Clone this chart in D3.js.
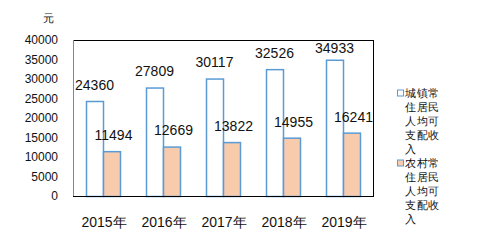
<!DOCTYPE html>
<html>
<head>
<meta charset="utf-8">
<script src="https://cdn.jsdelivr.net/npm/d3@7"></script>
<style>
  body { margin: 0; background: #fff; }
  text { font-family: "Liberation Sans", Arial, sans-serif; fill: #111; }
</style>
</head>
<body>
<div id="chart"></div>
<script>
let YEARS = ["2015年", "2016年", "2017年", "2018年", "2019年"]
let URBAN = [24360, 27809, 30117, 32526, 34933]
let RURAL = [11494, 12669, 13822, 14955, 16241]
let Y_TICKS = [0, 5000, 10000, 15000, 20000, 25000, 30000, 35000, 40000]
let SERIES = ["城镇常住居民人均可支配收入", "农村常住居民人均可支配收入"]

// plot area
var margin = {top: 40, right: 114, bottom: 47, left: 73},
    width = 487 - margin.left - margin.right,
    height = 243 - margin.top - margin.bottom;

var svg = d3.select("#chart")
  .append("svg")
    .attr("width", 487)
    .attr("height", 243);

var plot = svg.append("g")
  .attr("transform", "translate(" + margin.left + "," + margin.top + ")");

var x = d3.scaleBand()
  .domain(YEARS)
  .range([0, width]);

var y = d3.scaleLinear()
  .domain([0, 40000])
  .range([height, 0]);

var barW = 17;

// frame: top and right black, left grey
plot.append("line")
  .attr("x1", 0).attr("x2", width).attr("y1", 0.5).attr("y2", 0.5)
  .attr("stroke", "#000");
plot.append("line")
  .attr("x1", width + 0.5).attr("x2", width + 0.5).attr("y1", 0).attr("y2", height)
  .attr("stroke", "#000");
plot.append("line")
  .attr("x1", 0.5).attr("x2", 0.5).attr("y1", 0).attr("y2", height)
  .attr("stroke", "#888");

// y tick labels
plot.append("g")
  .selectAll("text")
  .data(Y_TICKS)
  .enter()
  .append("text")
    .attr("x", -15)
    .attr("y", d => y(d))
    .attr("dy", "0.35em")
    .attr("text-anchor", "end")
    .attr("font-size", 12)
    .text(d => d);

svg.append("text")
  .attr("x", 48).attr("y", 18).attr("dy", "0.35em")
  .attr("text-anchor", "middle")
  .attr("font-family", "Noto Sans CJK SC")
  .attr("font-size", 11)
  .text("元");

// bars
var groups = plot.selectAll(".grp")
  .data(YEARS)
  .enter()
  .append("g")
  .attr("transform", d => "translate(" + (x(d) + x.bandwidth() / 2) + ",0)");

groups.append("rect")
  .attr("x", -barW + 0.5)
  .attr("y", (d, i) => y(URBAN[i]) + 0.5)
  .attr("width", barW)
  .attr("height", (d, i) => height - y(URBAN[i]))
  .attr("fill", "#fff")
  .attr("stroke", "#5B9BD5")
  .attr("stroke-width", 1.5);

groups.append("rect")
  .attr("x", 0.5)
  .attr("y", (d, i) => y(RURAL[i]) + 0.5)
  .attr("width", barW)
  .attr("height", (d, i) => height - y(RURAL[i]))
  .attr("fill", "#F8CBAD")
  .attr("stroke", "#5B9BD5")
  .attr("stroke-width", 1.5);

// value labels (kept inside the plot top)
groups.append("text")
  .attr("x", -barW / 2)
  .attr("y", (d, i) => Math.max(y(URBAN[i]) - 16, 8))
  .attr("dy", "0.35em")
  .attr("text-anchor", "middle")
  .attr("font-size", 14)
  .text((d, i) => URBAN[i]);

groups.append("text")
  .attr("x", barW / 2 + 2)
  .attr("y", (d, i) => y(RURAL[i]) - 16)
  .attr("dy", "0.35em")
  .attr("text-anchor", "middle")
  .attr("font-size", 14)
  .text((d, i) => RURAL[i]);

// bottom axis line
plot.append("line")
  .attr("x1", 0).attr("x2", width + 1).attr("y1", height + 0.5).attr("y2", height + 0.5)
  .attr("stroke", "#000");

// x labels
groups.append("text")
  .attr("x", 1)
  .attr("y", height + 26)
  .attr("dy", "0.35em")
  .attr("text-anchor", "middle")
  .attr("font-size", 14)
  .text(d => d);

// legend
var legend = svg.append("g")
  .attr("transform", "translate(397,0)");

var legendY = [93, 163];
var fills = ["#fff", "#F8CBAD"];

SERIES.forEach(function(s, k) {
  legend.append("rect")
    .attr("x", 0.5)
    .attr("y", legendY[k] - 3)
    .attr("width", 6)
    .attr("height", 6)
    .attr("fill", fills[k])
    .attr("stroke", "#5B9BD5");
  var lines = [];
  for (var i = 0; i < s.length; i += 3) lines.push(s.slice(i, i + 3));
  legend.append("g").selectAll("text")
    .data(lines)
    .enter()
    .append("text")
      .attr("x", 8)
      .attr("y", (d, i) => legendY[k] + i * 14)
      .attr("dy", "0.35em")
      .attr("font-family", "Noto Sans CJK SC")
      .attr("font-size", 11)
      .attr("letter-spacing", 0.5)
      .text(d => d);
});
</script>
</body>
</html>
